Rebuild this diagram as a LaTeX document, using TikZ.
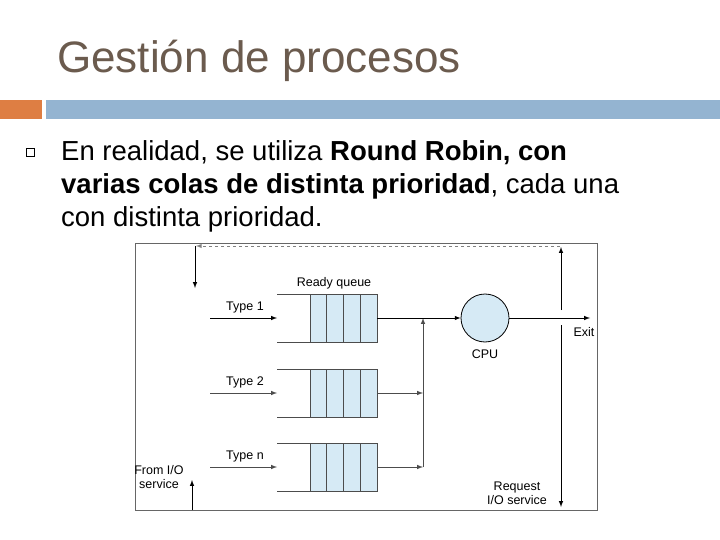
\documentclass[tikz,border=0pt]{standalone}
\usepackage{fontspec}
\setmainfont{Liberation Sans}
\definecolor{qfill}{HTML}{D6EAF5}
\definecolor{titlec}{HTML}{6B5B4E}
\definecolor{barblue}{HTML}{94B4D1}
\definecolor{barorange}{HTML}{DE7E43}
\tikzset{
  lbl/.style={font=\fontsize{12.5}{14}\selectfont, inner sep=0pt},
  arr/.style={-latex, line width=1pt},
  garr/.style={-latex, line width=1pt, black!70},
}
\begin{document}
\begin{tikzpicture}[x=1pt,y=1pt]
\useasboundingbox (0,0) rectangle (720,-540);
\fill[white] (0,0) rectangle (720,-540);
\node[anchor=base west, inner sep=0pt, text=titlec, font=\fontsize{44}{46}\selectfont] (title) at (57,-73) {Gestión de procesos};
\fill[barorange] (0,-100) rectangle (42,-119);
\fill[barblue] (46,-100) rectangle (720,-119);
\node[draw, line width=0.6pt, minimum size=8pt, inner sep=0pt] (bul) at (30,-152) {};
\node[anchor=north west, inner sep=0pt, align=left, font=\fontsize{27.5}{33}\selectfont] (body) at (61,-140)
 {En realidad, se utiliza \textbf{Round Robin, con}\\ \textbf{varias colas de distinta prioridad}, cada una\\ con distinta prioridad.};
% frame
\draw[black!60, line width=0.8pt] (135,-243) -- (597,-243) -- (597,-510) -- (135,-510) -- cycle;
% queues
\foreach \n/\y/\t in {q1/318/Type 1, q2/393/Type 2, qn/467/Type n}{
  \fill[qfill] (310,-\y+24) rectangle (377,-\y-24);
  \draw[black!70, line width=0.8pt] (277,-\y+24) -- (377,-\y+24) -- (377,-\y-24) -- (277,-\y-24);
  \foreach \i in {0,1,2,3} \draw[black!70, line width=0.8pt] (310+\i*16.75,-\y+24) -- (310+\i*16.75,-\y-24);
  \coordinate (\n in) at (277,-\y);
  \coordinate (\n out) at (377,-\y);
  \coordinate (\n src) at (210,-\y);
  \node[lbl] at (245,-\y+11) {\t};
}
\draw[arr] (q1src) -- (q1in);
\draw[garr] (q2src) -- (q2in);
\draw[garr] (qnsrc) -- (qnin);
\node[lbl] (rq) at (334,-283) {Ready queue};
\node[circle, draw, fill=qfill, line width=0.8pt, minimum size=48pt, inner sep=0pt] (cpu) at (485,-318) {};
\node[lbl] at (485,-354) {CPU};
\coordinate (m1) at (423,-318);
\coordinate (m2) at (423,-393);
\coordinate (mn) at (423,-467);
\draw[garr] (q2out) -- (m2);
\draw[garr] (qnout) -- (mn);
\draw[garr] (mn) -- (m1);
\draw[arr] (q1out) -- (cpu);
\coordinate (exit) at (590,-318);
\draw[arr] (cpu) -- (exit);
\node[lbl] at (584,-332) {Exit};
% right verticals
\coordinate (r1) at (561,-310);
\coordinate (r2) at (561,-247);
\coordinate (r3) at (561,-325);
\coordinate (r4) at (561,-507);
\draw[arr] (r1) -- (r2);
\draw[arr] (r3) -- (r4);
\node[lbl, align=center] at (517,-493) {Request\\I/O service};
% dashed feedback
\coordinate (d1) at (560,-246);
\coordinate (d2) at (196,-246);
\draw[black!50, dashed, line width=0.9pt, -latex] (d1) -- (d2);
\coordinate (d3) at (195,-246);
\coordinate (d4) at (195,-288);
\draw[arr] (d3) -- (d4);
% from I/O
\node[lbl, align=center] at (159,-477) {From I/O\\service};
\coordinate (f1) at (192,-510);
\coordinate (f2) at (192,-480);
\draw[arr] (f1) -- (f2);
\end{tikzpicture}
\end{document}
